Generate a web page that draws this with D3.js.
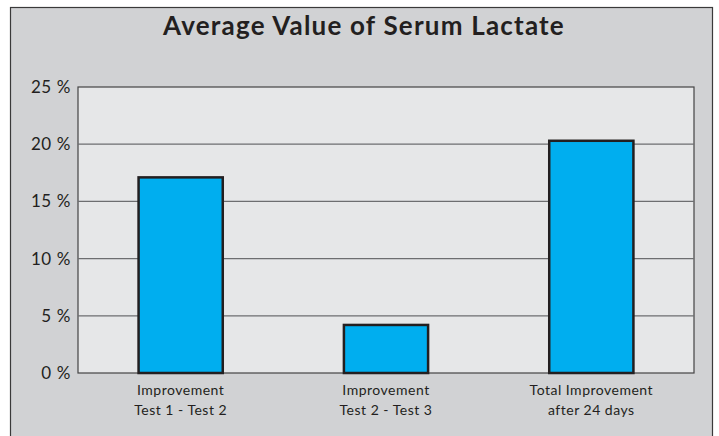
<!DOCTYPE html>
<html>
<head>
<meta charset="utf-8">
<script src="https://cdn.jsdelivr.net/npm/d3@7"></script>
<style>
  body { margin:0; background:#fff; }
  text { font-family: "Lato", "DejaVu Sans", sans-serif; fill:#231f20; }
</style>
</head>
<body>
<script>
// data
var categories = [["Improvement", "Test 1 - Test 2"], ["Improvement", "Test 2 - Test 3"], ["Total Improvement", "after 24 days"]];
var values = [17.1, 4.2, 20.3];
var tickValues = [0, 5, 10, 15, 20, 25];
var title = "Average Value of Serum Lactate";

var W = 719, H = 436;
var margin = {top:87, right:25, bottom:63, left:78},
    width = W - margin.left - margin.right,
    height = H - margin.top - margin.bottom;

var svg = d3.select("body").append("svg")
  .attr("width", W)
  .attr("height", H);

// outer panel
svg.append("rect")
  .attr("x", 10.5).attr("y", 7.5)
  .attr("width", 702).attr("height", 440)
  .attr("fill", "#d1d2d4")
  .attr("stroke", "#3a3a3a").attr("stroke-width", 1.2);

svg.append("text")
  .attr("x", 364).attr("y", 35)
  .attr("text-anchor", "middle")
  .style("font-size", "26px").style("font-weight", "bold")
  .style("letter-spacing", "1.2px")
  .text(title);

var g = svg.append("g")
  .attr("transform", "translate(" + margin.left + "," + margin.top + ")");

var x = d3.scaleBand()
  .domain(d3.range(values.length))
  .range([0, width])
  .paddingInner(0.59)
  .paddingOuter(0.295);
var y = d3.scaleLinear().domain([0, 25]).range([height, 0]);

// plot background
g.append("rect")
  .attr("x", 0).attr("y", 0)
  .attr("width", width).attr("height", height)
  .attr("fill", "#e6e7e8")
  .attr("stroke", "#444").attr("stroke-width", 1.2);

// gridlines
g.selectAll(".grid").data(tickValues.filter(function(d){ return d > 0 && d < 25; }))
  .enter().append("line")
  .attr("x1", 0).attr("x2", width)
  .attr("y1", function(d){ return y(d); })
  .attr("y2", function(d){ return y(d); })
  .attr("stroke", "#6d6e70").attr("stroke-width", 1.3);

// axis labels
var yAxis = d3.axisLeft(y).tickValues(tickValues).tickSize(0).tickPadding(7)
  .tickFormat(function(d){ return d + " %"; });
var ax = g.append("g").call(yAxis);
ax.select(".domain").remove();
ax.selectAll("text").style("font-size", "17px").style("letter-spacing", "0.6px").attr("fill", "#231f20");

// bars
g.selectAll(".bar").data(values)
  .enter().append("rect")
  .attr("x", function(d, i){ return x(i); })
  .attr("y", function(d){ return y(d); })
  .attr("width", x.bandwidth())
  .attr("height", function(d){ return height - y(d); })
  .attr("fill", "#00aeef")
  .attr("stroke", "#231f20").attr("stroke-width", 2.5);

// category labels
var lab = g.selectAll(".cat").data(categories)
  .enter().append("text")
  .attr("text-anchor", "middle")
  .attr("transform", function(d, i){ return "translate(" + (x(i) + x.bandwidth()/2) + "," + (height + 22) + ")"; })
  .style("font-size", "14px").style("letter-spacing", "0.5px");
lab.selectAll("tspan").data(function(d){ return d; })
  .enter().append("tspan")
  .attr("x", 0)
  .attr("dy", function(d, i){ return i ? 20 : 0; })
  .text(function(d){ return d; });
</script>
</body>
</html>
